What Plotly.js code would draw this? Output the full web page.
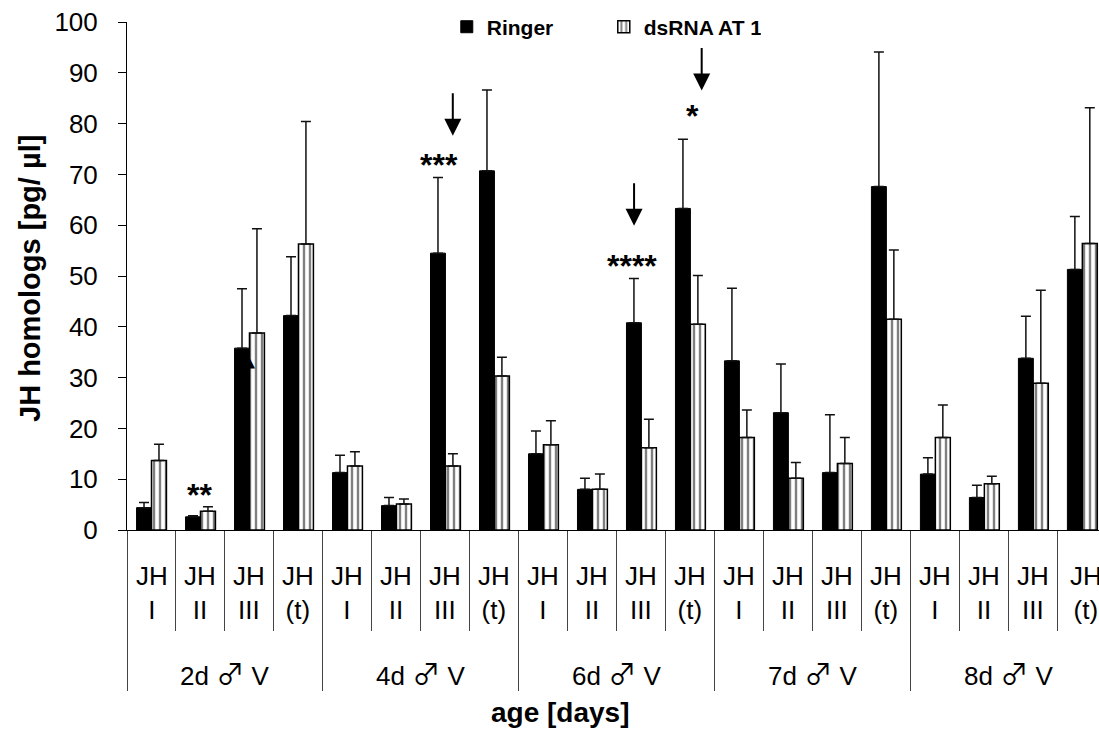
<!DOCTYPE html>
<html>
<head>
<meta charset="utf-8">
<script src="https://cdn.plot.ly/plotly-3.0.1.min.js"></script>
<style>html,body{margin:0;padding:0;background:#fff;}#chart{width:1099px;height:740px;}</style>
</head>
<body>
<div id="chart"></div>
<script>
// ---- data ----
const groups = ['2d ♂ V', '4d ♂ V', '6d ♂ V', '7d ♂ V', '8d ♂ V'];
const hormones = ['JH<br>I', 'JH<br>II', 'JH<br>III', 'JH<br>(t)'];
const ringer   = [4.4, 2.6, 35.8, 42.2, 11.3, 4.8, 54.5, 70.7, 15.0, 8.0, 40.8, 63.3, 33.3, 23.1, 11.3, 67.6, 11.0, 6.4, 33.8, 51.3];
const ringerSD = [1.0, 0.2, 11.7, 11.6, 3.4, 1.6, 14.9, 15.9, 4.5, 2.2, 8.7, 13.6, 14.3, 9.6, 11.4, 26.5, 3.2, 2.4, 8.3, 10.4];
const dsrna    = [13.7, 3.7, 38.8, 56.3, 12.6, 5.1, 12.6, 30.3, 16.8, 8.0, 16.2, 40.5, 18.2, 10.2, 13.1, 41.5, 18.2, 9.1, 28.9, 56.4];
const dsrnaSD  = [3.2, 0.9, 20.5, 24.1, 2.8, 1.0, 2.4, 3.7, 4.7, 3.0, 5.6, 9.6, 5.4, 3.1, 5.1, 13.6, 6.4, 1.5, 18.3, 26.7];
const seriesNames = ['Ringer', 'dsRNA AT 1'];
// significance marks: [x position (category index), y value, text]
const starMarks = [[0.97, 6.9, '**'], [5.87, 71.9, '***'], [9.81, 52.0, '****'], [11.05, 81.5, '*']];
// arrows: [x, tip y value]
const arrowMarks = [[6.15, 77.6], [9.85, 59.9], [11.23, 86.5]];

// ---- build ----
const labels = [];
groups.forEach(g => hormones.forEach(h => labels.push(h)));
const xs = labels.map((_, i) => i);
const zeros = xs.map(() => 0);
const FONT = 'Liberation Sans, Arial, DejaVu Sans, sans-serif';

const traces = [
  {type: 'bar', name: seriesNames[0], x: xs, y: ringer,
   marker: {color: '#000', line: {color: '#000', width: 1}},
   error_y: {type: 'data', symmetric: false, array: ringerSD, arrayminus: zeros, color: '#111', thickness: 1.5, width: 5}},
  {type: 'bar', name: seriesNames[1], x: xs, y: dsrna,
   marker: {color: '#fff', line: {color: '#000', width: 1.5},
            pattern: {shape: '|', fgcolor: '#000', bgcolor: '#fff', size: 6, solidity: 0.4, fillmode: 'overlay'}},
   error_y: {type: 'data', symmetric: false, array: dsrnaSD, arrayminus: zeros, color: '#111', thickness: 1.5, width: 5}}
];

const plotH = 508;
const annotations = [];
labels.forEach((t, i) => annotations.push({
  x: i === labels.length - 1 ? i + 0.07 : i, xref: 'x', y: -63 / plotH, yref: 'paper', text: t, showarrow: false,
  font: {family: FONT, size: 26, color: '#000'}, xanchor: 'center', yanchor: 'middle'
}));
groups.forEach((g, k) => annotations.push({
  x: k * 4 + 1.5, xref: 'x', y: -143 / plotH, yref: 'paper',
  text: g.replace('♂', "<span style=\"font-family:'Noto Sans CJK SC';font-weight:normal;font-size:28px\">♂</span>"), showarrow: false,
  font: {family: FONT, size: 26, color: '#000'}, xanchor: 'center', yanchor: 'middle'
}));
starMarks.forEach(s => annotations.push({
  x: s[0], xref: 'x', y: s[1], yref: 'y', text: s[2], showarrow: false,
  font: {family: FONT, size: 32, color: '#000', weight: 'bold'}, xanchor: 'center', yanchor: 'middle'
}));
arrowMarks.forEach(a => annotations.push({
  x: a[0], xref: 'x', y: a[1], yref: 'y', text: '', showarrow: true,
  ax: 0, ay: -44, arrowhead: 2, arrowsize: 1.7, arrowwidth: 2, arrowcolor: '#000', standoff: 0
}));
annotations.push({x: 2.02, xref: 'x', y: 33, yref: 'y', text: '▲', showarrow: false,
  font: {family: 'DejaVu Sans', size: 13, color: '#000'}, xanchor: 'center', yanchor: 'middle'});
// axis titles
annotations.push({x: (560 - 127) / 972, xref: 'paper', y: -182 / plotH, yref: 'paper', text: 'age [days]',
  showarrow: false, font: {family: FONT, size: 28, color: '#000', weight: 'bold'}, xanchor: 'center', yanchor: 'middle'});
annotations.push({x: (30 - 127) / 972, xref: 'paper', y: 1 - (279 - 22) / plotH, yref: 'paper', text: 'JH homologs [pg/ µl]',
  textangle: -90, showarrow: false, font: {family: FONT, size: 29, color: '#000', weight: 'bold'}, xanchor: 'center', yanchor: 'middle'});

const layout = {
  width: 1099, height: 740,
  margin: {l: 127, r: 0, t: 22, b: 210},
  paper_bgcolor: '#fff', plot_bgcolor: '#fff',
  barmode: 'group', bargap: 0.39, bargroupgap: 0,
  font: {family: FONT, color: '#000'},
  showlegend: true,
  legend: {orientation: 'h', x: 0.329, xanchor: 'left', y: 0.99, yanchor: 'middle',
    font: {family: FONT, size: 21, color: '#000', weight: 'bold'}, bgcolor: 'rgba(0,0,0,0)',
    entrywidth: 112, entrywidthmode: 'pixels'},
  xaxis: {range: [-0.5, 19.34], showgrid: false, zeroline: false, showline: true, linecolor: '#000', linewidth: 1,
    tickmode: 'linear', tick0: -0.5, dtick: 4, ticks: 'outside', ticklen: 160, tickwidth: 1, tickcolor: '#444',
    showticklabels: false,
    minor: {tick0: -0.5, dtick: 1, ticks: 'outside', ticklen: 100, tickwidth: 1, tickcolor: '#444', showgrid: false}},
  yaxis: {range: [0, 100], dtick: 10, showgrid: false, zeroline: false, showline: true, linecolor: '#000', linewidth: 1,
    ticks: 'outside', ticklen: 8, tickwidth: 1, tickcolor: '#000', ticklabelstandoff: 15,
    tickfont: {family: FONT, size: 26, color: '#000'}},
  annotations: annotations
};

Plotly.newPlot('chart', traces, layout, {displayModeBar: false, staticPlot: true});
</script>
</body>
</html>
